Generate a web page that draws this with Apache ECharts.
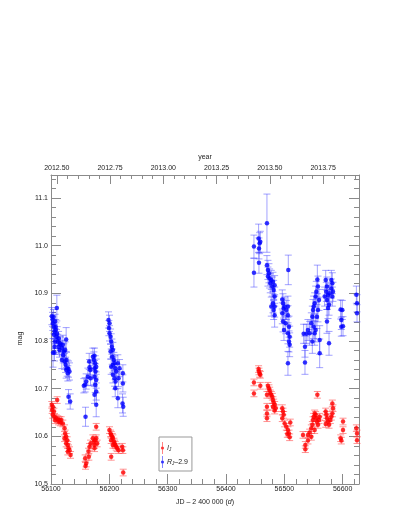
<!DOCTYPE html>
<html>
<head>
<meta charset="utf-8">
<script src="https://cdn.jsdelivr.net/npm/echarts@6/dist/echarts.min.js"></script>
<style>html,body{margin:0;padding:0;background:#fff}#c{width:407px;height:527px}</style>
</head>
<body>
<div id="c"></div>
<script>
// ---- data (JD - 2400000, magnitude, error) ----
const blueDay = [
56101.4,56102.6,56103.1,56103.5,56104.3,56104.9,56105.0,56106.0,56106.0,56106.0,56107.1,56107.1,56108.0,56108.3,56109.4,56110.0,56110.5,56111.7,56112.9,56113.0,56114.6,56115.5,56116.3,56118.6,56119.0,56120.3,56121.0,56122.0,56123.2,56124.3,56125.0,56126.0,56126.0,56126.6,56127.7,56128.9,56130.0,56130.0,56131.7,56132.9,
56156.3,56158.6,56159.2,56160.3,56163.2,56165.5,56166.1,56167.2,56167.8,56171.8,56173.5,56174.6,56174.6,56174.6,56174.6,56175.8,56175.8,56176.3,56177.5,56177.5,56177.5,56177.5,
56198.6,56199.2,56200.3,56200.3,56202.1,56202.1,56203.2,56203.2,56204.4,56205.0,56206.1,56206.1,56206.1,56207.8,56209.0,56209.0,56210.1,56210.1,56210.7,56211.8,56214.6,56214.6,56215.8,56217.5,56222.6,56223.2,56223.2,56223.8,
56447.9,56447.9,56455.9,56456.5,56456.5,56457.6,56458.8,56470.2,56470.2,56471.9,56471.9,56473.6,56474.8,56475.9,56477.6,56477.6,56479.4,56480.5,56480.5,56481.7,56481.7,56483.4,56483.4,56483.4,56483.4,
56496.5,56496.5,56497.7,56497.7,56498.8,56499.4,56500.5,56502.2,56503.4,56506.2,56506.2,56506.2,56506.2,56506.8,56508.0,56508.0,56509.1,56509.1,
56533.1,56535.4,56535.4,56537.7,56540.5,56543.4,56546.3,56548.0,56548.0,56549.1,56550.3,56550.3,56552.0,56552.0,56553.7,56553.7,56554.8,56555.9,56556.6,56557.7,56557.7,56559.4,56560.6,56560.6,
56569.1,56570.9,56572.0,56573.1,56573.1,56573.1,56574.9,56574.9,56576.6,56576.6,56577.7,56580.6,56580.6,56582.3,56582.3,56583.4,
56596.6,56597.7,56597.7,56599.4,56600.6,
56623.5,56624.6,56624.6
];
const blueMag = [
10.852,10.845,10.837,10.775,10.850,10.830,10.813,10.820,10.788,10.776,10.841,10.799,10.830,10.823,10.809,10.869,10.815,10.799,10.788,10.805,10.781,10.795,10.792,10.760,10.785,10.792,10.770,10.778,10.757,10.781,10.750,10.803,10.739,10.760,10.743,10.732,10.741,10.683,10.736,10.673,
10.706,10.708,10.641,10.715,10.725,10.757,10.745,10.739,10.722,10.767,10.760,10.769,10.743,10.725,10.687,10.753,10.708,10.736,10.746,10.718,10.694,10.666,
10.844,10.827,10.837,10.816,10.809,10.778,10.799,10.746,10.788,10.767,10.781,10.750,10.729,10.760,10.753,10.722,10.743,10.701,10.715,10.736,10.753,10.680,10.722,10.743,10.669,10.732,10.711,10.662,
10.998,10.943,11.015,10.994,10.964,11.005,11.008,11.047,10.959,10.949,10.935,10.942,10.931,10.921,10.928,10.872,10.914,10.924,10.879,10.907,10.865,10.917,10.893,10.872,10.854,
10.887,10.858,10.879,10.841,10.868,10.823,10.872,10.837,10.865,10.872,10.854,10.816,10.753,10.949,10.830,10.799,10.809,10.792,
10.815,10.788,10.755,10.815,10.823,10.816,10.837,10.851,10.799,10.865,10.872,10.830,10.879,10.816,10.893,10.823,10.903,10.851,10.929,10.914,10.865,10.886,10.802,10.774,
10.893,10.928,10.903,10.914,10.886,10.841,10.896,10.869,10.876,10.795,10.900,10.928,10.910,10.921,10.893,10.903,
10.866,10.844,10.830,10.865,10.831,
10.897,10.879,10.858
];
const blueErr = [
0.018,0.015,0.015,0.030,0.016,0.015,0.015,0.015,0.016,0.018,0.015,0.015,0.015,0.015,0.015,0.027,0.015,0.015,0.016,0.015,0.015,0.015,0.016,0.018,0.016,0.020,0.016,0.016,0.017,0.017,0.016,0.025,0.017,0.016,0.017,0.016,0.017,0.015,0.018,0.016,
0.015,0.015,0.020,0.016,0.018,0.017,0.016,0.016,0.016,0.018,0.017,0.016,0.016,0.017,0.018,0.016,0.016,0.016,0.016,0.017,0.018,0.025,
0.017,0.016,0.017,0.016,0.016,0.016,0.016,0.016,0.016,0.016,0.016,0.017,0.017,0.016,0.016,0.017,0.016,0.018,0.016,0.016,0.018,0.020,0.018,0.018,0.020,0.018,0.018,0.020,
0.024,0.030,0.030,0.022,0.022,0.022,0.022,0.061,0.020,0.020,0.020,0.020,0.020,0.020,0.020,0.020,0.020,0.020,0.020,0.020,0.020,0.020,0.020,0.022,0.025,
0.020,0.022,0.020,0.022,0.020,0.022,0.020,0.022,0.020,0.022,0.020,0.022,0.025,0.031,0.022,0.022,0.022,0.025,
0.020,0.022,0.025,0.020,0.022,0.025,0.022,0.022,0.025,0.022,0.022,0.025,0.022,0.025,0.022,0.025,0.022,0.025,0.030,0.022,0.025,0.022,0.030,0.030,
0.020,0.020,0.020,0.020,0.020,0.025,0.020,0.022,0.022,0.025,0.020,0.020,0.020,0.022,0.020,0.020,
0.020,0.020,0.020,0.020,0.020,
0.018,0.018,0.018
];
const redDay = [
56101.4,56102.0,56103.1,56103.1,56104.9,56106.0,56107.1,56108.9,56110.6,56111.7,56112.9,56114.6,56116.3,56117.4,56120.3,56123.2,56123.2,56124.3,56126.0,56126.0,56127.7,56128.9,56128.9,56130.0,56131.7,56133.5,
56158.6,56159.2,56160.3,56164.3,56164.9,56166.1,56167.8,56171.8,56173.5,56174.6,56174.6,56175.8,56177.5,56177.5,56179.2,
56200.3,56202.1,56203.2,56203.2,56203.2,56205.0,56206.1,56206.1,56207.8,56209.0,56210.1,56211.8,56213.5,56215.8,56222.1,56223.2,56223.8,
56447.9,56447.9,56455.9,56456.5,56457.6,56458.8,56458.8,56470.2,56470.2,56470.2,56470.2,56471.9,56473.6,56474.8,56475.9,56477.6,56479.4,56480.5,56480.5,56481.7,56483.4,56483.4,56485.1,
56496.5,56496.5,56497.7,56498.8,56500.5,56503.4,56505.1,56506.2,56508.0,56509.1,56510.2,
56532.0,56536.0,56536.0,56540.5,56540.5,56543.4,56546.3,56546.3,56548.0,56549.1,56550.3,56552.0,56552.0,56553.7,56554.8,56555.9,56556.6,56557.7,56559.4,56560.6,
56570.9,56570.9,56572.0,56573.1,56574.9,56576.6,56578.9,56580.6,56582.3,56582.3,56583.4,
56596.6,56597.7,56600.6,56600.6,
56623.5,56624.6,56624.6
];
const redMag = [
10.666,10.655,10.662,10.645,10.652,10.641,10.634,10.638,10.676,10.636,10.631,10.634,10.629,10.634,10.627,10.617,10.596,10.606,10.599,10.585,10.592,10.582,10.568,10.575,10.571,10.561,
10.554,10.538,10.543,10.568,10.557,10.578,10.585,10.596,10.589,10.582,10.575,10.592,10.596,10.620,10.585,
10.613,10.606,10.603,10.592,10.557,10.599,10.596,10.582,10.589,10.585,10.582,10.578,10.575,10.571,10.578,10.571,10.524,
10.713,10.690,10.741,10.736,10.731,10.729,10.706,10.687,10.662,10.648,10.638,10.706,10.701,10.696,10.690,10.687,10.683,10.676,10.662,10.671,10.666,10.654,10.659,
10.659,10.638,10.652,10.645,10.627,10.620,10.605,10.613,10.606,10.598,10.629,
10.603,10.582,10.573,10.603,10.591,10.608,10.617,10.599,10.624,10.634,10.641,10.648,10.613,10.645,10.638,10.631,10.687,10.624,10.634,10.641,
10.652,10.626,10.645,10.638,10.631,10.624,10.634,10.641,10.669,10.648,10.659,
10.596,10.591,10.631,10.613,
10.617,10.606,10.592
];
const redErr = [];
for (let i = 0; i < redDay.length; i++) redErr.push(0.007);

const yMajor = [10.5, 10.6, 10.7, 10.8, 10.9, 11.0, 11.1];
const yMinor = [10.52,10.54,10.56,10.58,10.62,10.64,10.66,10.68,10.72,10.74,10.76,10.78,10.82,10.84,10.86,10.88,10.92,10.94,10.96,10.98,11.02,11.04,11.06,11.08,11.12,11.14];
const xMajor = [56100, 56200, 56300, 56400, 56500, 56600];
const xMinor = [56120,56140,56160,56180,56220,56240,56260,56280,56320,56340,56360,56380,56420,56440,56460,56480,56520,56540,56560,56580,56620];
const yearMajor = [2012.50, 2012.75, 2013.00, 2013.25, 2013.50, 2013.75];
const yearMinor = [2012.55,2012.60,2012.65,2012.70,2012.80,2012.85,2012.90,2012.95,2013.05,2013.10,2013.15,2013.20,2013.30,2013.35,2013.40,2013.45,2013.55,2013.60,2013.65,2013.70,2013.80,2013.85,2013.90];

// ---- chart ----
const FONT = 'Liberation Sans';
const AX = '#8a8a8a';
const xMin = 56100, xMax = 56628;
const yrMin = 2012.4728, yrMax = yrMin + (xMax - xMin) / 365.25;
const yMin = 10.5, yMax = 11.148;

function zip3(a, b, c) { return a.map((v, i) => [v, b[i], c[i]]); }
function zip2(a, b) { return a.map((v, i) => [v, b[i]]); }

function errRender(color) {
  return function (params, api) {
    const x = api.value(0), y = api.value(1), e = api.value(2);
    const lo = api.coord([x, y - e]), hi = api.coord([x, y + e]);
    const w = 3.5;
    const st = { stroke: color, lineWidth: 1 };
    return {
      type: 'group',
      children: [
        { type: 'line', shape: { x1: lo[0], y1: lo[1], x2: hi[0], y2: hi[1] }, style: st },
        { type: 'line', shape: { x1: lo[0] - w, y1: lo[1], x2: lo[0] + w, y2: lo[1] }, style: st },
        { type: 'line', shape: { x1: hi[0] - w, y1: hi[1], x2: hi[0] + w, y2: hi[1] }, style: st }
      ]
    };
  };
}

const labelStyle = { fontFamily: FONT, fontSize: 7, color: '#222' };

function xAx(opts) {
  return Object.assign({
    type: 'value', gridIndex: 0, min: xMin, max: xMax,
    splitLine: { show: false }, axisLine: { show: false },
    axisLabel: { show: false }, axisTick: { show: false }
  }, opts);
}
function yAx(opts) {
  return Object.assign({
    type: 'value', gridIndex: 0, min: yMin, max: yMax,
    splitLine: { show: false }, axisLine: { show: false },
    axisLabel: { show: false }, axisTick: { show: false }
  }, opts);
}

const option = {
  animation: false,
  backgroundColor: '#fff',
  grid: { left: 51, right: 48, top: 175, bottom: 43, containLabel: false },
  xAxis: [
    xAx({
      position: 'bottom',
      axisLine: { show: true, lineStyle: { color: AX, width: 1 } },
      axisTick: { show: true, inside: true, length: 10, lineStyle: { color: AX }, customValues: xMajor },
      axisLabel: Object.assign({ show: true, margin: 2, customValues: xMajor, formatter: v => String(v) }, labelStyle),
      name: '{n|JD – 2 400 000 (}{i|d}{n|)}',
      nameLocation: 'middle', nameGap: 15,
      nameTextStyle: { rich: { n: { fontFamily: FONT, fontSize: 7, color: '#222' }, i: { fontFamily: FONT, fontSize: 7, fontStyle: 'italic', color: '#222' } } }
    }),
    xAx({
      position: 'bottom',
      axisTick: { show: true, inside: true, length: 5, lineStyle: { color: AX }, customValues: xMinor }
    }),
    xAx({
      position: 'top', min: yrMin, max: yrMax,
      axisLine: { show: true, lineStyle: { color: AX, width: 1 } },
      axisTick: { show: true, inside: true, length: 9, lineStyle: { color: AX }, customValues: yearMajor },
      axisLabel: Object.assign({ show: true, margin: 3, customValues: yearMajor, formatter: v => v.toFixed(2) }, labelStyle),
      name: 'year', nameLocation: 'middle', nameGap: 14,
      nameTextStyle: { fontFamily: FONT, fontSize: 7, color: '#222' }
    }),
    xAx({
      position: 'top', min: yrMin, max: yrMax,
      axisTick: { show: true, inside: true, length: 4, lineStyle: { color: AX }, customValues: yearMinor }
    })
  ],
  yAxis: [
    yAx({
      position: 'left',
      axisLine: { show: true, lineStyle: { color: AX, width: 1 } },
      axisTick: { show: true, inside: true, length: 10, lineStyle: { color: AX }, customValues: yMajor },
      axisLabel: Object.assign({ show: true, margin: 3, customValues: yMajor, formatter: v => v.toFixed(1) }, labelStyle),
      name: 'mag', nameLocation: 'middle', nameGap: 19, nameRotate: 90,
      nameTextStyle: { fontFamily: FONT, fontSize: 7, color: '#222', padding: [0, 0, 0, -18] }
    }),
    yAx({
      position: 'left',
      axisTick: { show: true, inside: true, length: 5, lineStyle: { color: AX }, customValues: yMinor }
    }),
    yAx({
      position: 'right',
      axisLine: { show: true, lineStyle: { color: AX, width: 1 } },
      axisTick: { show: true, inside: true, length: 10, lineStyle: { color: AX }, customValues: yMajor }
    }),
    yAx({
      position: 'right',
      axisTick: { show: true, inside: true, length: 5, lineStyle: { color: AX }, customValues: yMinor }
    })
  ],
  legend: {
    orient: 'vertical', left: 159, top: 437,
    padding: [5, 4, 3, 2], itemGap: 2,
    itemWidth: 5, itemHeight: 12,
    borderColor: '#999', borderWidth: 1,
    data: ['I_J', 'R_J-2.9'],
    formatter: function (n) {
      return n === 'I_J' ? '{i|I}{s|J}' : '{i|R}{s|J}{n|–2.9}';
    },
    textStyle: {
      fontFamily: FONT, fontSize: 7, color: '#222', padding: [0, 0, 0, -3],
      rich: {
        i: { fontFamily: FONT, fontSize: 7, fontStyle: 'italic', color: '#222' },
        s: { fontFamily: FONT, fontSize: 4.5, fontStyle: 'italic', color: '#222', padding: [4, 0, 0, 0] },
        n: { fontFamily: FONT, fontSize: 7, color: '#222' }
      }
    },
    icon: 'path://M4.4,0 L5.6,0 L5.6,24 L4.4,24 Z M5,9 A3,3 0 1 1 4.99,9 Z'
  },
  series: [
    {
      type: 'custom', name: 'redErr', xAxisIndex: 0, yAxisIndex: 0,
      renderItem: errRender('rgba(255,60,60,0.55)'),
      data: zip3(redDay, redMag, redErr), encode: { x: 0, y: 1 }, silent: true, z: 1
    },
    {
      type: 'custom', name: 'blueErr', xAxisIndex: 0, yAxisIndex: 0,
      renderItem: errRender('rgba(60,60,255,0.48)'),
      data: zip3(blueDay, blueMag, blueErr), encode: { x: 0, y: 1 }, silent: true, z: 1
    },
    {
      type: 'scatter', name: 'I_J', xAxisIndex: 0, yAxisIndex: 0,
      symbol: 'circle', symbolSize: 4.5, itemStyle: { color: '#ff0000' },
      data: zip2(redDay, redMag), z: 3
    },
    {
      type: 'scatter', name: 'R_J-2.9', xAxisIndex: 0, yAxisIndex: 0,
      symbol: 'circle', symbolSize: 4.5, itemStyle: { color: '#0000ff' },
      data: zip2(blueDay, blueMag), z: 3
    }
  ]
};

const chart = echarts.init(document.getElementById('c'), null, { renderer: 'canvas' });
chart.setOption(option);
</script>
</body>
</html>
